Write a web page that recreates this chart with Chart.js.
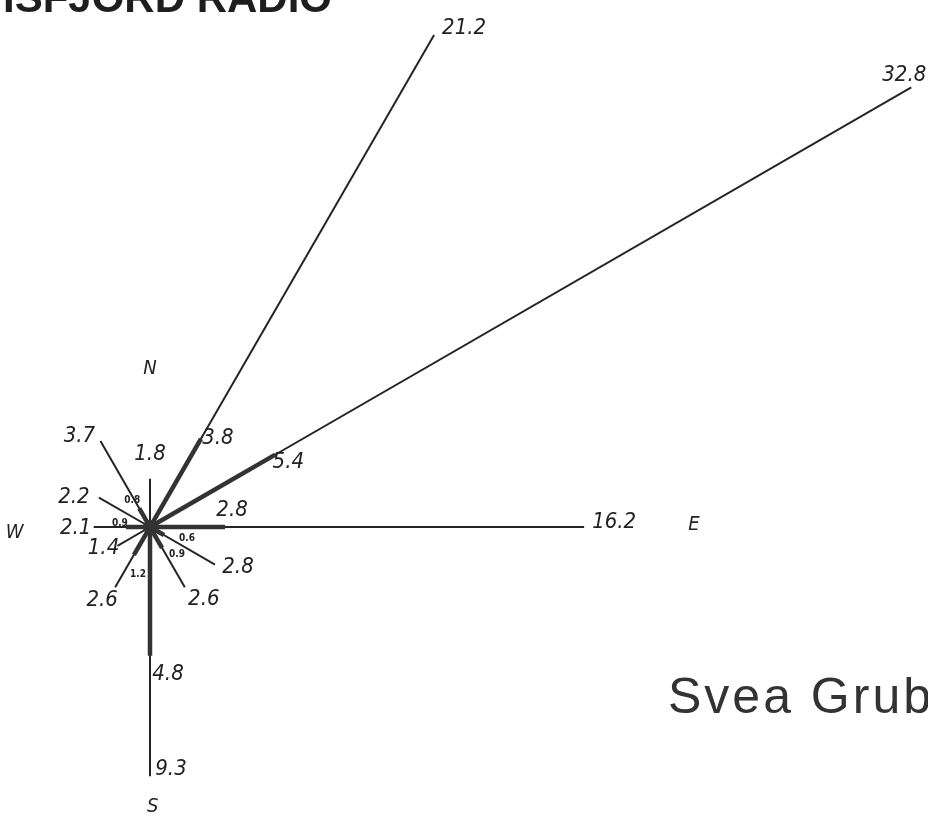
<!DOCTYPE html>
<html>
<head>
<meta charset="utf-8">
<script src="https://cdn.jsdelivr.net/npm/chart.js@4/dist/chart.umd.min.js"></script>
<style>
  html, body { margin: 0; padding: 0; background: #fff; }
  #wrap { width: 928px; height: 817px; }
</style>
</head>
<body>
<div id="wrap"><canvas id="rose" width="928" height="817"></canvas></div>
<script>
// wind rose, 12 sectors of 30 deg, values in percent
const bearings    = [0, 30, 60, 90, 120, 150, 180, 210, 240, 270, 300, 330];
const totalValues = [1.8, 21.2, 32.8, 16.2, 2.8, 2.6, 9.3, 2.6, 1.4, 2.1, 2.2, 3.7];
const innerValues = [null, 3.8, 5.4, 2.8, 0.6, 0.9, 4.8, 1.2, null, 0.9, null, 0.8];
const compassLetters = ['N', 'E', 'S', 'W'];

// label placement (pixel offsets from the end of each spoke)
const totalOffsets = [[0,-24],[30,-7],[-7,-12],[30,-5],[23,3],[19,12],[21,-7],[-13,13],[-14,3],[-18,1],[-25,0],[-21,-5]];
const innerOffsets = [null,[17,-1],[13,8],[7,-17],[23,3],[15,7],[18,19],[4,20],null,[-6,-4],null,[-7,-8]];
const compassPos = { N: [0, 5.9], E: [20.3, 0.1], S: [0.1, -10.45], W: [-5.05, -0.2] };

const polar = (v, deg) => {
  const r = deg * Math.PI / 180;
  return { x: v * Math.sin(r), y: v * Math.cos(r) };
};

const ink = '#242424';
const numFont = 'italic 22px "DejaVu Sans Condensed", "DejaVu Sans", sans-serif';
const smallFont = 'bold 10px "DejaVu Sans Condensed", "DejaVu Sans", sans-serif';

const thin = bearings.map((b, i) => ({
  data: [{ x: 0, y: 0 }, polar(totalValues[i], b)],
  showLine: true, borderColor: ink, borderWidth: 2, pointRadius: 0, order: 2
}));
const thick = bearings.map((b, i) => innerValues[i] == null ? null : ({
  data: [{ x: 0, y: 0 }, polar(innerValues[i], b)],
  showLine: true, borderColor: '#333', borderWidth: 4.5, pointRadius: 0, order: 1
})).filter(Boolean);
const hub = { data: [{ x: 0, y: 0 }], pointRadius: 7, backgroundColor: '#333', borderWidth: 0, order: 0 };

const labelPlugin = {
  id: 'roseLabels',
  afterDatasetsDraw(chart) {
    const { ctx, scales: { x, y } } = chart;
    const px = p => [x.getPixelForValue(p.x), y.getPixelForValue(p.y)];
    ctx.save();
    ctx.fillStyle = '#222';
    ctx.textAlign = 'center';
    ctx.textBaseline = 'middle';

    bearings.forEach((b, i) => {
      const [ex, ey] = px(polar(totalValues[i], b));
      const o = totalOffsets[i];
      ctx.font = numFont;
      ctx.fillText(totalValues[i].toFixed(1), ex + o[0], ey + o[1]);
      if (innerValues[i] != null) {
        const [ix, iy] = px(polar(innerValues[i], b));
        const q = innerOffsets[i];
        ctx.font = innerValues[i] < 2 ? smallFont : numFont;
        ctx.fillText(innerValues[i].toFixed(1), ix + q[0], iy + q[1]);
      }
    });

    ctx.font = 'italic 20px "DejaVu Sans Condensed", "DejaVu Sans", sans-serif';
    compassLetters.forEach(c => {
      const [cx, cy] = px({ x: compassPos[c][0], y: compassPos[c][1] });
      ctx.fillText(c, cx, cy);
    });

    // page headings from the scan
    ctx.textBaseline = 'alphabetic';
    ctx.textAlign = 'right';
    ctx.font = 'bold 42px "Liberation Sans", Arial, sans-serif';
    ctx.fillStyle = '#1e1e1e';
    ctx.fillText('ISFJORD RADIO', 332, 12);
    ctx.textAlign = 'left';
    ctx.font = '50px "Liberation Sans", Arial, sans-serif';
    ctx.letterSpacing = '3px';
    ctx.fillStyle = '#333';
    ctx.fillText('Svea Grube', 668, 713);
    ctx.restore();
  }
};

new Chart(document.getElementById('rose'), {
  type: 'scatter',
  data: { datasets: [hub, ...thick, ...thin] },
  options: {
    responsive: false,
    animation: false,
    layout: { padding: 0, autoPadding: false },
    plugins: { legend: { display: false }, tooltip: { enabled: false } },
    scales: {
      x: { display: false, min: -150 / 26.8, max: 778 / 26.8 },
      y: { display: false, min: -290 / 26.8, max: 527 / 26.8 }
    }
  },
  plugins: [labelPlugin]
});
</script>
</body>
</html>
